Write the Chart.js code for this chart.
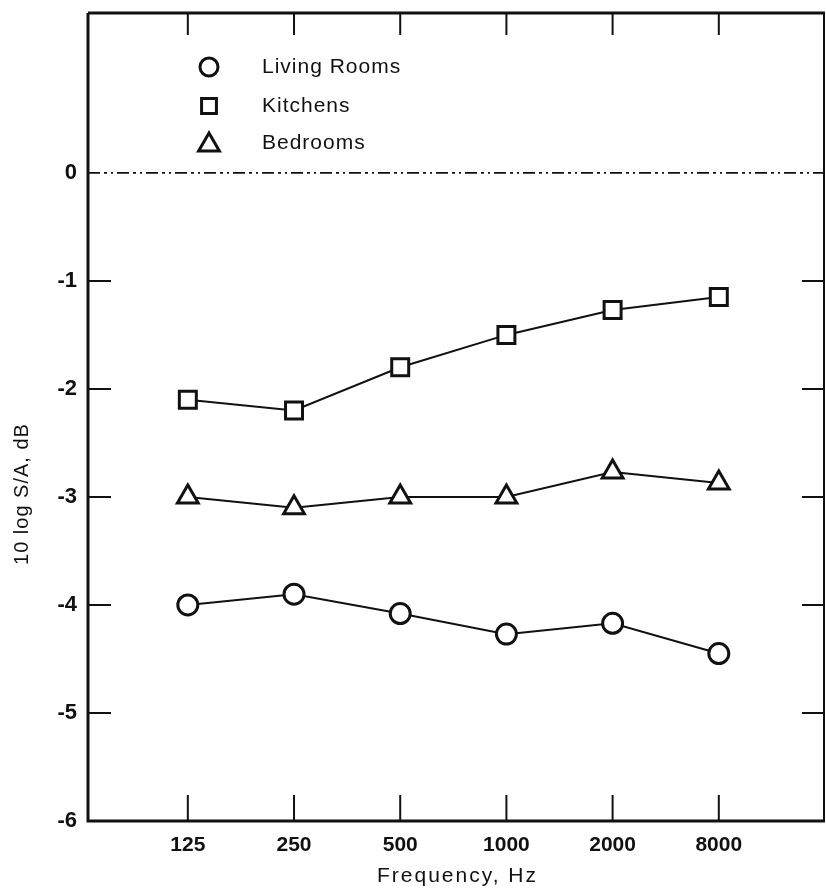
<!DOCTYPE html>
<html><head><meta charset="utf-8">
<script src="https://cdn.jsdelivr.net/npm/chart.js@4/dist/chart.umd.min.js"></script>
<style>html,body{margin:0;padding:0;background:#fff;overflow:hidden}#wrap{width:826px;height:894px}canvas{display:block}</style>
</head><body><div id="wrap"><canvas id="c" width="826" height="894"></canvas></div>
<script>
const categories = ['125', '250', '500', '1000', '2000', '8000'];
const livingRooms = [-4.0, -3.9, -4.08, -4.27, -4.17, -4.45];
const kitchens = [-2.1, -2.2, -1.8, -1.5, -1.27, -1.15];
const bedrooms = [-3.0, -3.1, -3.0, -3.0, -2.77, -2.87];
const yTicks = [-6, -5, -4, -3, -2, -1, 0];
const yTickLabels = ['-6', '-5', '-4', '-3', '-2', '-1', '0'];
const seriesNames = ['Living Rooms', 'Kitchens', 'Bedrooms'];
const seriesStyles = ['circle', 'rect', 'triangle'];
const xTitle = 'Frequency, Hz';
const yTitle = '10 log S/A, dB';

const FONT = '"Liberation Sans", Arial, sans-serif';
const INK = '#111';

function toPoints(arr) { return arr.map((v, i) => ({ x: i + 1, y: v })); }

const datasets = [livingRooms, kitchens, bedrooms].map((arr, k) => ({
  label: seriesNames[k],
  data: toPoints(arr),
  borderColor: INK,
  borderWidth: 2,
  pointStyle: seriesStyles[k],
  pointRadius: k === 0 ? 10 : 12,
  pointBorderWidth: 3,
  pointBackgroundColor: '#fff',
  pointBorderColor: INK,
  fill: false,
  tension: 0
}));

const framePlugin = {
  id: 'frame',
  beforeDatasetsDraw(chart) {
    const { ctx, chartArea: a, scales: { x, y } } = chart;
    ctx.save();
    ctx.strokeStyle = INK;
    // zero dashed line
    ctx.lineWidth = 1.6;
    ctx.setLineDash([12, 4, 3, 4, 2, 4]);
    const y0 = y.getPixelForValue(0);
    ctx.beginPath(); ctx.moveTo(a.left, y0); ctx.lineTo(a.right, y0); ctx.stroke();
    ctx.setLineDash([]);
    // frame
    ctx.lineWidth = 3;
    ctx.beginPath();
    ctx.moveTo(a.left, a.top); ctx.lineTo(a.left, a.bottom); ctx.lineTo(a.right, a.bottom);
    ctx.moveTo(a.left, a.top); ctx.lineTo(a.right, a.top);
    ctx.stroke();
    ctx.lineWidth = 2;
    ctx.beginPath(); ctx.moveTo(a.right - 1, a.top); ctx.lineTo(a.right - 1, a.bottom); ctx.stroke();
    // inward ticks
    ctx.lineWidth = 2;
    ctx.beginPath();
    yTicks.forEach(v => {
      if (v === 0 || v === -6) return;
      const py = y.getPixelForValue(v);
      ctx.moveTo(a.left, py); ctx.lineTo(a.left + 23, py);
      ctx.moveTo(a.right, py); ctx.lineTo(a.right - 23, py);
    });
    categories.forEach((c, i) => {
      const px = x.getPixelForValue(i + 1);
      ctx.moveTo(px, a.bottom); ctx.lineTo(px, a.bottom - 26);
      ctx.moveTo(px, a.top); ctx.lineTo(px, a.top + 22);
    });
    ctx.stroke();
    ctx.restore();
  },
  afterDraw(chart) {
    const { ctx, chartArea: a } = chart;
    ctx.save();
    ctx.fillStyle = INK;
    ctx.font = '21px ' + FONT;
    ctx.letterSpacing = '2px';
    ctx.textAlign = 'center';
    ctx.textBaseline = 'middle';
    // x title
    ctx.fillText(xTitle, (a.left + a.right) / 2 + 1, 876);
    // y title
    ctx.letterSpacing = '1px';
    ctx.font = '20px ' + FONT;
    ctx.translate(22, 494);
    ctx.rotate(-Math.PI / 2);
    ctx.fillText(yTitle, 0, 0);
    ctx.restore();
    // legend
    ctx.save();
    const rows = [67, 106, 143];
    chart.data.datasets.forEach((ds, k) => {
      ctx.strokeStyle = INK; ctx.fillStyle = '#fff'; ctx.lineWidth = 3;
      ctx.beginPath();
      const st = ds.pointStyle, r = k === 0 ? 9 : (k === 1 ? 10.5 : 12);
      if (st === 'circle') { ctx.arc(209, rows[k], r, 0, Math.PI * 2); }
      else if (st === 'rect') { const h = r * Math.SQRT1_2; ctx.rect(209 - h, rows[k] - h, 2 * h, 2 * h); }
      else { const cy = rows[k] + 2; ctx.moveTo(209, cy - r); ctx.lineTo(209 + r * 0.866, cy + r * 0.5); ctx.lineTo(209 - r * 0.866, cy + r * 0.5); ctx.closePath(); }
      ctx.fill(); ctx.stroke();
      ctx.fillStyle = INK;
      ctx.font = '21px ' + FONT;
      ctx.letterSpacing = '1px';
      ctx.textAlign = 'left';
      ctx.textBaseline = 'middle';
      ctx.fillText(ds.label, 262, rows[k]);
    });
    ctx.restore();
  }
};

new Chart(document.getElementById('c'), {
  type: 'line',
  data: { datasets },
  options: {
    responsive: false,
    animation: false,
    devicePixelRatio: 1,
    layout: { autoPadding: false, padding: { top: 13, right: 1, left: 0, bottom: 0 } },
    plugins: { legend: { display: false }, tooltip: { enabled: false }, title: { display: false } },
    scales: {
      x: {
        type: 'linear', min: 0.06, max: 7.0,
        afterBuildTicks: s => { s.ticks = categories.map((c, i) => ({ value: i + 1 })); },
        afterFit: s => { s.height = 73; s.paddingLeft = 0; s.paddingRight = 0; },
        grid: { display: false, drawTicks: false },
        border: { display: false },
        ticks: {
          autoSkip: false, maxRotation: 0, padding: 12, color: INK,
          font: { family: FONT, size: 21, weight: 'bold' },
          callback: v => categories[Math.round(v) - 1]
        }
      },
      y: {
        type: 'linear', min: -6, max: 1.48,
        afterBuildTicks: s => { s.ticks = yTicks.map(v => ({ value: v })); },
        afterFit: s => { s.width = 88; s.paddingTop = 0; s.paddingBottom = 0; },
        grid: { display: false, drawTicks: false },
        border: { display: false },
        ticks: {
          padding: 11, color: INK,
          font: { family: FONT, size: 22, weight: 'bold' },
          callback: v => yTickLabels[yTicks.indexOf(v)]
        }
      }
    }
  },
  plugins: [framePlugin]
});
</script>
</body></html>
